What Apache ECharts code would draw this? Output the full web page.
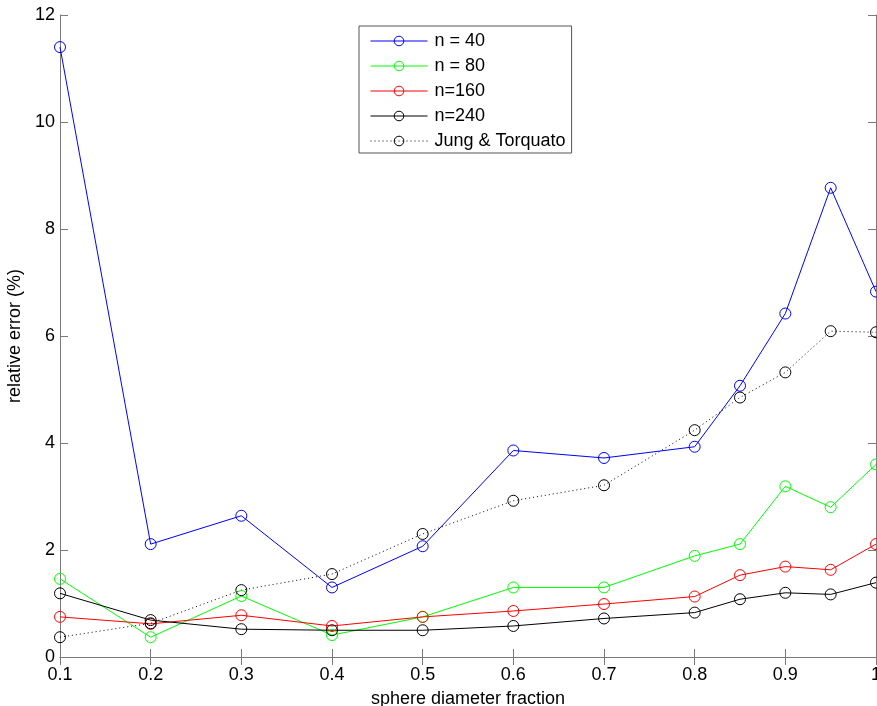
<!DOCTYPE html>
<html>
<head>
<meta charset="utf-8">
<script src="https://cdn.jsdelivr.net/npm/echarts@6/dist/echarts.min.js"></script>
<style>
  html, body { margin: 0; padding: 0; background: #fff; }
  #chart { width: 877px; height: 706px; }
</style>
</head>
<body>
<div id="chart"></div>
<script>
// sphere diameter fraction
var xValues = [0.1, 0.2, 0.3, 0.4, 0.5, 0.6, 0.7, 0.8, 0.85, 0.9, 0.95, 1];
// relative error (%)
var n40 = [11.40, 2.11, 2.64, 1.30, 2.07, 3.86, 3.72, 3.93, 5.07, 6.42, 8.77, 6.83];
var n80 = [1.46, 0.37, 1.14, 0.41, 0.75, 1.30, 1.30, 1.89, 2.11, 3.19, 2.80, 3.60];
var n160 = [0.75, 0.62, 0.78, 0.58, 0.75, 0.86, 0.99, 1.13, 1.53, 1.69, 1.63, 2.11];
var n240 = [1.19, 0.69, 0.52, 0.50, 0.50, 0.58, 0.72, 0.83, 1.08, 1.20, 1.17, 1.39];
var jungTorquato = [0.37, 0.63, 1.25, 1.55, 2.30, 2.92, 3.21, 4.24, 4.85, 5.32, 6.09, 6.07];

var names = ['n = 40', 'n = 80', 'n=160', 'n=240', 'Jung & Torquato'];
var colors = ['#0000ff', '#00ff00', '#ff0000', '#000000', '#000000'];
var dataSets = [n40, n80, n160, n240, jungTorquato];

function pairs(ys) {
    return xValues.map(function (x, i) { return [x, ys[i]]; });
}

var axisGrey = '#7a7a7a';
var font = 'Liberation Sans, Arial, sans-serif';

var series = dataSets.map(function (ys, i) {
    return {
        name: names[i],
        type: 'line',
        data: pairs(ys),
        symbol: 'circle',
        symbolSize: 11,
        clip: true,
        lineStyle: {
            color: colors[i],
            width: 1,
            type: i === 4 ? [1, 3] : 'solid'
        },
        itemStyle: {
            color: 'transparent',
            borderColor: colors[i],
            borderWidth: 1
        },
        emphasis: { disabled: true }
    };
});

var boxAxis = {
    axisLine: { show: true, lineStyle: { color: axisGrey, width: 1 } },
    axisTick: { show: true, inside: true, length: 8, lineStyle: { color: axisGrey } },
    splitLine: { show: false }
};

var option = {
    animation: false,
    backgroundColor: '#fff',
    textStyle: { fontFamily: font },
    grid: { left: 60, right: 1, top: 15, bottom: 49, outerBoundsMode: 'none' },
    legend: {
        orient: 'vertical',
        left: 359,
        top: 26,
        padding: [6, 6, 3, 11],
        itemWidth: 57,
        itemHeight: 12,
        itemGap: 7,
        borderColor: '#555',
        borderWidth: 1,
        backgroundColor: '#fff',
        lineStyle: { width: 1 },
        itemStyle: { borderWidth: 1 },
        textStyle: { fontSize: 18, color: '#000', fontFamily: font, padding: [0, 0, 0, 2] },
        data: names
    },
    xAxis: [
        Object.assign({
            type: 'value', position: 'bottom',
            min: 0.1, max: 1, interval: 0.1,
            name: 'sphere diameter fraction',
            nameLocation: 'middle', nameGap: 33,
            nameTextStyle: { fontSize: 18, color: '#000' },
            axisLabel: {
                fontSize: 18, color: '#000', margin: 9,
                formatter: function (v) { return String(+v.toFixed(2)); }
            }
        }, boxAxis),
        Object.assign({
            type: 'value', position: 'top',
            min: 0.1, max: 1, interval: 0.1,
            axisLabel: { show: false }
        }, boxAxis)
    ],
    yAxis: [
        Object.assign({
            type: 'value', position: 'left',
            min: 0, max: 12, interval: 2,
            name: 'relative error (%)',
            nameLocation: 'middle', nameGap: 32,
            nameTextStyle: { fontSize: 18, color: '#000' },
            axisLabel: { fontSize: 18, color: '#000', margin: 5 }
        }, boxAxis),
        Object.assign({
            type: 'value', position: 'right',
            min: 0, max: 12, interval: 2,
            axisLabel: { show: false }
        }, boxAxis)
    ],
    series: series
};

var chart = echarts.init(document.getElementById('chart'));
chart.setOption(option);
</script>
</body>
</html>
